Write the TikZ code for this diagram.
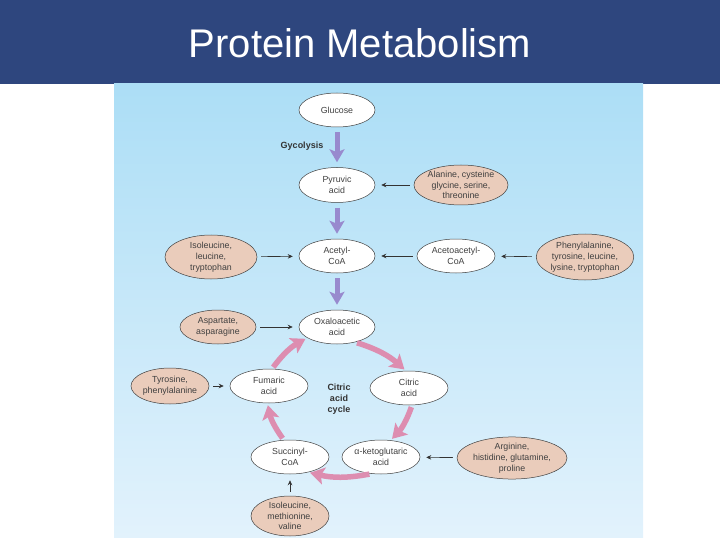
\documentclass[tikz,border=0pt]{standalone}
\usepackage{fontspec}
\setmainfont{Liberation Sans}
\usepackage{xcolor}
\usepackage{tikz}
\usetikzlibrary{arrows.meta,shapes.geometric,positioning}
\definecolor{titlebar}{RGB}{46,70,126}
\definecolor{panelTop}{RGB}{172,222,246}
\definecolor{panelBot}{RGB}{226,242,252}
\definecolor{peach}{RGB}{234,204,187}
\definecolor{lavender}{RGB}{152,138,206}
\definecolor{rose}{RGB}{221,141,176}
\tikzset{
  met/.style={ellipse, draw=black!75, line width=0.5pt, fill=white,
    minimum width=76pt, minimum height=34pt, inner sep=0pt, align=center,
    text=black!75, font=\fontsize{8.8}{10.8}\selectfont},
  amino/.style={met, fill=peach},    % amino acid sources
  feed/.style={-{Stealth[length=5pt,width=4.5pt]}, line width=0.6pt, draw=black!80,
    shorten <=4pt, shorten >=6pt},
  glyc/.style={line width=5pt, draw=lavender, -{Stealth[length=13pt,width=15pt,inset=3pt]},
    shorten <=5pt, shorten >=5pt},  % glycolysis chain
  cyc/.style={line width=5.5pt, draw=rose, -{Stealth[length=14pt,width=17pt,inset=3pt]},
    shorten <=2pt, shorten >=2pt},  % citric acid cycle
  lbl/.style={font=\bfseries\fontsize{9}{11}\selectfont, text=black!80, align=center}
}

\begin{document}
\begin{tikzpicture}[x=1pt,y=1pt]
  \useasboundingbox (0,0) rectangle (720,-540);
  % title bar
  \fill[titlebar] (0,0) rectangle (720,-84);
  \node[text=white, font=\fontsize{40}{44}\selectfont] (title) at (360,-43) {Protein Metabolism};
  % picture panel
  \shade[top color=panelTop, bottom color=panelBot] (114,-84) rectangle (643,-537);
  % main chain
  \node[met] (glu) at (337,-110) {Glucose};
  \node[met, minimum height=35pt] (pyr) at (337,-185) {Pyruvic\\acid};
  \node[met] (acc) at (337,-256) {Acetyl-\\CoA};
  \node[met] (oxa) at (337,-327) {Oxaloacetic\\acid};
  \node[lbl] (gly) at (302,-146) {Gycolysis};
  % cycle
  \node[met, minimum width=78pt] (fum) at (269,-386) {Fumaric\\acid};
  \node[met, minimum width=78pt] (cit) at (409,-388) {Citric\\acid};
  \node[met, minimum width=78pt] (suc) at (290,-457) {Succinyl-\\CoA};
  \node[met, minimum width=78pt] (akg) at (381,-457) {α-ketoglutaric\\acid};
  \node[lbl] (cyc) at (339,-399) {Citric\\acid\\cycle};
  % amino acids
  \node[amino, minimum width=90pt, minimum height=40pt] (ala) at (461,-185) {Alanine, cysteine\\glycine, serine,\\threonine};
  \node[amino, minimum width=92pt, minimum height=44pt] (ile) at (211,-257) {Isoleucine,\\leucine,\\tryptophan};
  \node[met, minimum width=78pt] (aac) at (456,-256) {Acetoacetyl-\\CoA};
  \node[amino, minimum width=90pt, minimum height=46pt] (phe) at (585,-257) {Phenylalanine,\\tyrosine, leucine,\\lysine, tryptophan};
  \node[amino] (asp) at (218,-327) {Aspartate,\\asparagine};
  \node[amino, minimum width=78pt, minimum height=36pt] (tyr) at (170,-386) {Tyrosine,\\phenylalanine};
  \node[amino, minimum width=92pt, minimum height=40pt] (arg) at (512,-458) {Arginine,\\histidine, glutamine,\\proline};
  \node[amino, minimum width=78pt, minimum height=40pt] (met) at (290,-516) {Isoleucine,\\methionine,\\valine};
  % thick arrows
  \draw[glyc] (glu) -- (pyr);
  \draw[glyc] (pyr) -- (acc);
  \draw[glyc] (acc) -- (oxa);
  \draw[cyc] (oxa.-40) to[bend left=12] (cit.100);
  \draw[cyc] (cit.-80) to[bend left=12] (akg.60);
  \draw[cyc] (akg.-120) to[bend left=12] (suc.-40);
  \draw[cyc] (suc.110) to[bend left=12] (fum.-95);
  \draw[cyc] (fum.80) to[bend left=12] (oxa.-160);
  % feeder arrows
  \draw[feed] (ala) -- (pyr);
  \draw[feed] (ile) -- (acc);
  \draw[feed] (aac) -- (acc);
  \draw[feed] (phe) -- (aac);
  \draw[feed] (asp) -- (oxa);
  \draw[feed] (tyr) -- (fum);
  \draw[feed] (arg) -- (akg);
  \draw[feed] (met) -- (suc);
\end{tikzpicture}
\end{document}
